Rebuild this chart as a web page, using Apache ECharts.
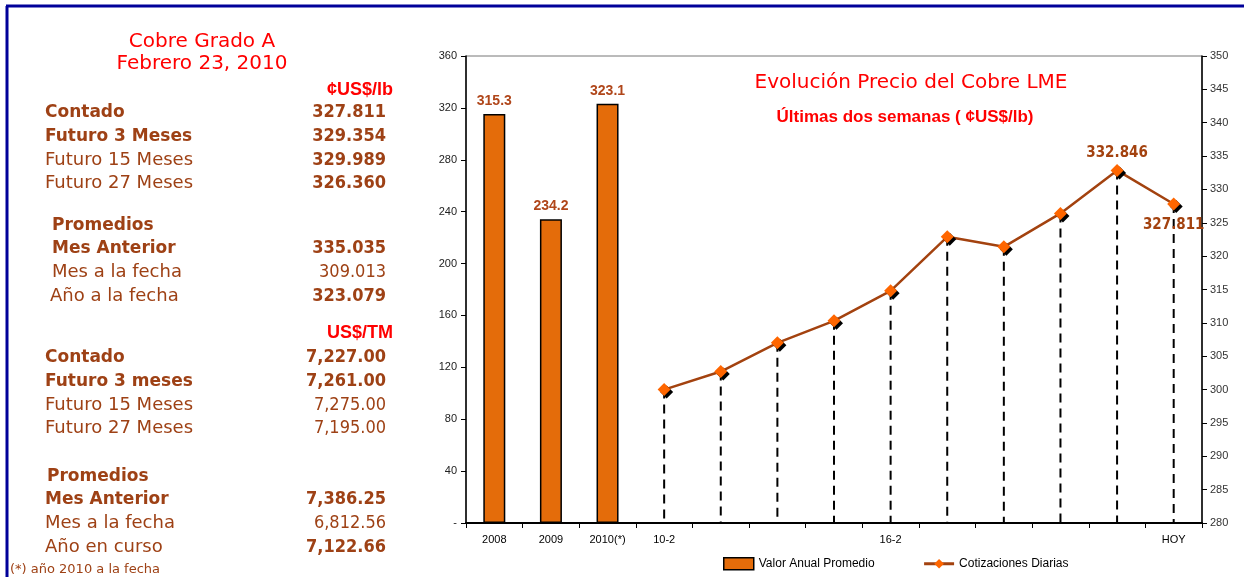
<!DOCTYPE html>
<html>
<head>
<meta charset="UTF-8">
<title>Cobre LME</title>
<script src="https://cdn.jsdelivr.net/npm/echarts@6/dist/echarts.min.js"></script>
<style>
  html, body { margin: 0; padding: 0; background: #fff; }
  #main { width: 1244px; height: 577px; }
</style>
</head>
<body>
<div id="main"></div>
<script type="text/javascript">
// categorias del eje x (años + dias habiles de febrero 2010)
var categories = ['2008', '2009', '2010(*)', '10-2', '11-2', '12-2', '15-2', '16-2', '17-2', '18-2', '19-2', '22-2', 'HOY'];
var shownLabels = ['2008', '2009', '2010(*)', '10-2', '16-2', 'HOY'];
// valor anual promedio (eje izquierdo)
var annualCats = ['2008', '2009', '2010(*)'];
var annualValues = [315.3, 234.2, 323.1];
// cotizaciones diarias (eje derecho)
var dayCats = ['10-2', '11-2', '12-2', '15-2', '16-2', '17-2', '18-2', '19-2', '22-2', 'HOY'];
var dayValues = [300.0, 302.7, 307.0, 310.3, 314.8, 322.9, 321.4, 326.4, 332.846, 327.811];
var labelledDays = ['22-2', 'HOY'];

// panel izquierdo
var panelLabels = ['Contado', 'Futuro 3 Meses', 'Futuro 15 Meses', 'Futuro 27 Meses',
  'Promedios', 'Mes Anterior', 'Mes a la fecha', 'Año a la fecha',
  'Contado', 'Futuro 3 meses', 'Futuro 15 Meses', 'Futuro 27 Meses',
  'Promedios', 'Mes Anterior', 'Mes a la fecha', 'Año en curso'];
var panelValues = ['327.811', '329.354', '329.989', '326.360',
  '', '335.035', '309.013', '323.079',
  '7,227.00', '7,261.00', '7,275.00', '7,195.00',
  '', '7,386.25', '6,812.56', '7,122.66'];

// layout del panel (posiciones / pesos)
var rowY = [112, 136, 160, 183, 225, 248, 272, 296, 357, 381, 405, 428, 476, 499, 523, 547];
var rowX = [45, 45, 45, 45, 52, 52, 52, 50, 45, 45, 45, 45, 47, 45, 45, 45];
var labelBold = [1, 1, 0, 0, 1, 1, 0, 0, 1, 1, 0, 0, 1, 1, 0, 0];
var valueBold = [1, 1, 1, 1, 0, 1, 0, 1, 1, 1, 0, 0, 0, 1, 0, 1];

var BROWN = '#9E4115';
var RED = '#FF0000';
var GEO = '"DejaVu Sans", sans-serif';
var NARROW = '"Liberation Sans Narrow", "Liberation Sans", Arial, sans-serif';

var myChart = echarts.init(document.getElementById('main'));

var graphics = [
  // marco azul
  { type: 'line', shape: { x1: 6, y1: 6, x2: 1244, y2: 6 }, style: { stroke: '#000099', lineWidth: 3 } },
  { type: 'line', shape: { x1: 7, y1: 6, x2: 7, y2: 577 }, style: { stroke: '#000099', lineWidth: 3 } },
  { type: 'text', x: 202, y: 42, style: { text: 'Cobre Grado A', fill: RED, font: '20px ' + GEO, align: 'center', verticalAlign: 'middle' } },
  { type: 'text', x: 202, y: 64, style: { text: 'Febrero 23, 2010', fill: RED, font: '20px ' + GEO, align: 'center', verticalAlign: 'middle' } },
  { type: 'text', x: 393, y: 90, style: { text: '¢US$/lb', fill: RED, font: 'bold 18px "Liberation Sans", Arial', align: 'right', verticalAlign: 'middle' } },
  { type: 'text', x: 393, y: 333, style: { text: 'US$/TM', fill: RED, font: 'bold 18px "Liberation Sans", Arial', align: 'right', verticalAlign: 'middle' } },
  { type: 'text', x: 10, y: 570, style: { text: '(*) año 2010 a la fecha', fill: BROWN, font: '13px ' + GEO, verticalAlign: 'middle' } },
  // titulos del grafico
  { type: 'text', x: 911, y: 83, style: { text: 'Evolución Precio del Cobre LME', fill: RED, font: '20px ' + GEO, align: 'center', verticalAlign: 'middle' } },
  { type: 'text', x: 905, y: 117, style: { text: 'Últimas dos semanas ( ¢US$/lb)', fill: RED, font: 'bold 17px "Liberation Sans", Arial', align: 'center', verticalAlign: 'middle' } }
];

for (var i = 0; i < panelLabels.length; i++) {
  graphics.push({
    type: 'text', x: rowX[i], y: rowY[i] + (labelBold[i] ? 1 : 0),
    style: { text: panelLabels[i], fill: BROWN, font: (labelBold[i] ? 'bold 17px ' : '18px ') + GEO, verticalAlign: 'middle' }
  });
  if (panelValues[i]) {
    graphics.push({
      type: 'text', x: 386, y: rowY[i],
      style: { text: panelValues[i], fill: BROWN, font: (valueBold[i] ? 'bold ' : '') + '18px "DejaVu Sans Condensed", "DejaVu Sans", sans-serif', align: 'right', verticalAlign: 'middle' }
    });
  }
}

var barData = annualCats.map(function (c, k) { return [c, annualValues[k]]; });
var lineData = dayCats.map(function (c, k) {
  var item = { value: [c, dayValues[k]] };
  if (labelledDays.indexOf(c) >= 0) {
    item.label = {
      show: true,
      position: c === 'HOY' ? 'bottom' : 'top',
      distance: c === 'HOY' ? 7 : 3,
      formatter: function (p) { return p.value[1].toFixed(3); }
    };
  }
  return item;
});
var dropData = dayCats.map(function (c, k) { return [c, dayValues[k]]; });

option = {
  animation: false,
  backgroundColor: '#fff',
  graphic: graphics,
  grid: { left: 466, right: 42, top: 56, bottom: 54, show: true, borderColor: '#777', borderWidth: 1 },
  legend: {
    left: 718, top: 552,
    itemWidth: 30, itemHeight: 12, itemGap: 48,
    textStyle: { fontFamily: NARROW, fontSize: 12, color: '#000' },
    data: [
      { name: 'Valor Anual Promedio', icon: 'rect', itemStyle: { color: '#E46C0A', borderColor: '#000', borderWidth: 1.5 } },
      { name: 'Cotizaciones Diarias', lineStyle: { width: 3, color: '#A3420F' }, itemStyle: { color: '#FF6600', shadowBlur: 0, shadowOffsetX: 0, shadowOffsetY: 0 } }
    ]
  },
  xAxis: {
    type: 'category',
    data: categories,
    boundaryGap: true,
    axisLine: { lineStyle: { color: '#000', width: 2 } },
    axisTick: { show: true, interval: 0, length: 5, lineStyle: { color: '#000' } },
    axisLabel: {
      interval: 0, margin: 11, color: '#000', fontFamily: NARROW, fontSize: 11,
      formatter: function (v) { return shownLabels.indexOf(v) >= 0 ? v : ''; }
    }
  },
  yAxis: [
    {
      type: 'value', min: 0, max: 360, interval: 40,
      splitLine: { show: false },
      axisLine: { show: true, lineStyle: { color: '#000', width: 1.5 } },
      axisTick: { show: true, length: 5, lineStyle: { color: '#000' } },
      axisLabel: { color: '#222', fontFamily: '"Liberation Sans", Arial', fontSize: 11, margin: 9,
        formatter: function (v) { return v === 0 ? '-' : v; } }
    },
    {
      type: 'value', min: 280, max: 350, interval: 5,
      splitLine: { show: false },
      axisLine: { show: true, lineStyle: { color: '#000', width: 1.5 } },
      axisTick: { show: true, length: 5, lineStyle: { color: '#000' } },
      axisLabel: { color: '#333', fontFamily: '"Liberation Sans", Arial', fontSize: 11, margin: 8 }
    }
  ],
  series: [
    {
      name: 'Valor Anual Promedio',
      type: 'bar',
      yAxisIndex: 0,
      barWidth: 22,
      data: barData,
      itemStyle: { color: '#E46C0A', borderColor: '#000', borderWidth: 1.5 },
      label: { show: true, position: 'top', distance: 6, color: '#B0461A', fontWeight: 'bold', fontSize: 14, fontFamily: '"Liberation Sans", Arial' }
    },
    {
      name: 'drop',
      type: 'custom',
      yAxisIndex: 1,
      z: 1,
      silent: true,
      data: dropData,
      renderItem: function (params, api) {
        var top = api.coord([api.value(0), api.value(1)]);
        var bot = api.coord([api.value(0), 280]);
        return {
          type: 'line',
          shape: { x1: top[0], y1: top[1], x2: bot[0], y2: bot[1] },
          style: { stroke: '#000', lineWidth: 2, lineDash: [9, 6] }
        };
      }
    },
    {
      name: 'Cotizaciones Diarias',
      type: 'line',
      yAxisIndex: 1,
      z: 3,
      data: lineData,
      symbol: 'diamond',
      symbolSize: 13,
      lineStyle: { color: '#A3420F', width: 2.5 },
      itemStyle: { color: '#FF6600', shadowColor: '#000', shadowOffsetX: 2.5, shadowOffsetY: 2.5, shadowBlur: 0 },
      label: { color: '#A3420F', fontWeight: 'bold', fontSize: 15, fontFamily: '"DejaVu Sans Condensed", "Liberation Sans", Arial' }
    }
  ]
};

myChart.setOption(option);
</script>
</body>
</html>
